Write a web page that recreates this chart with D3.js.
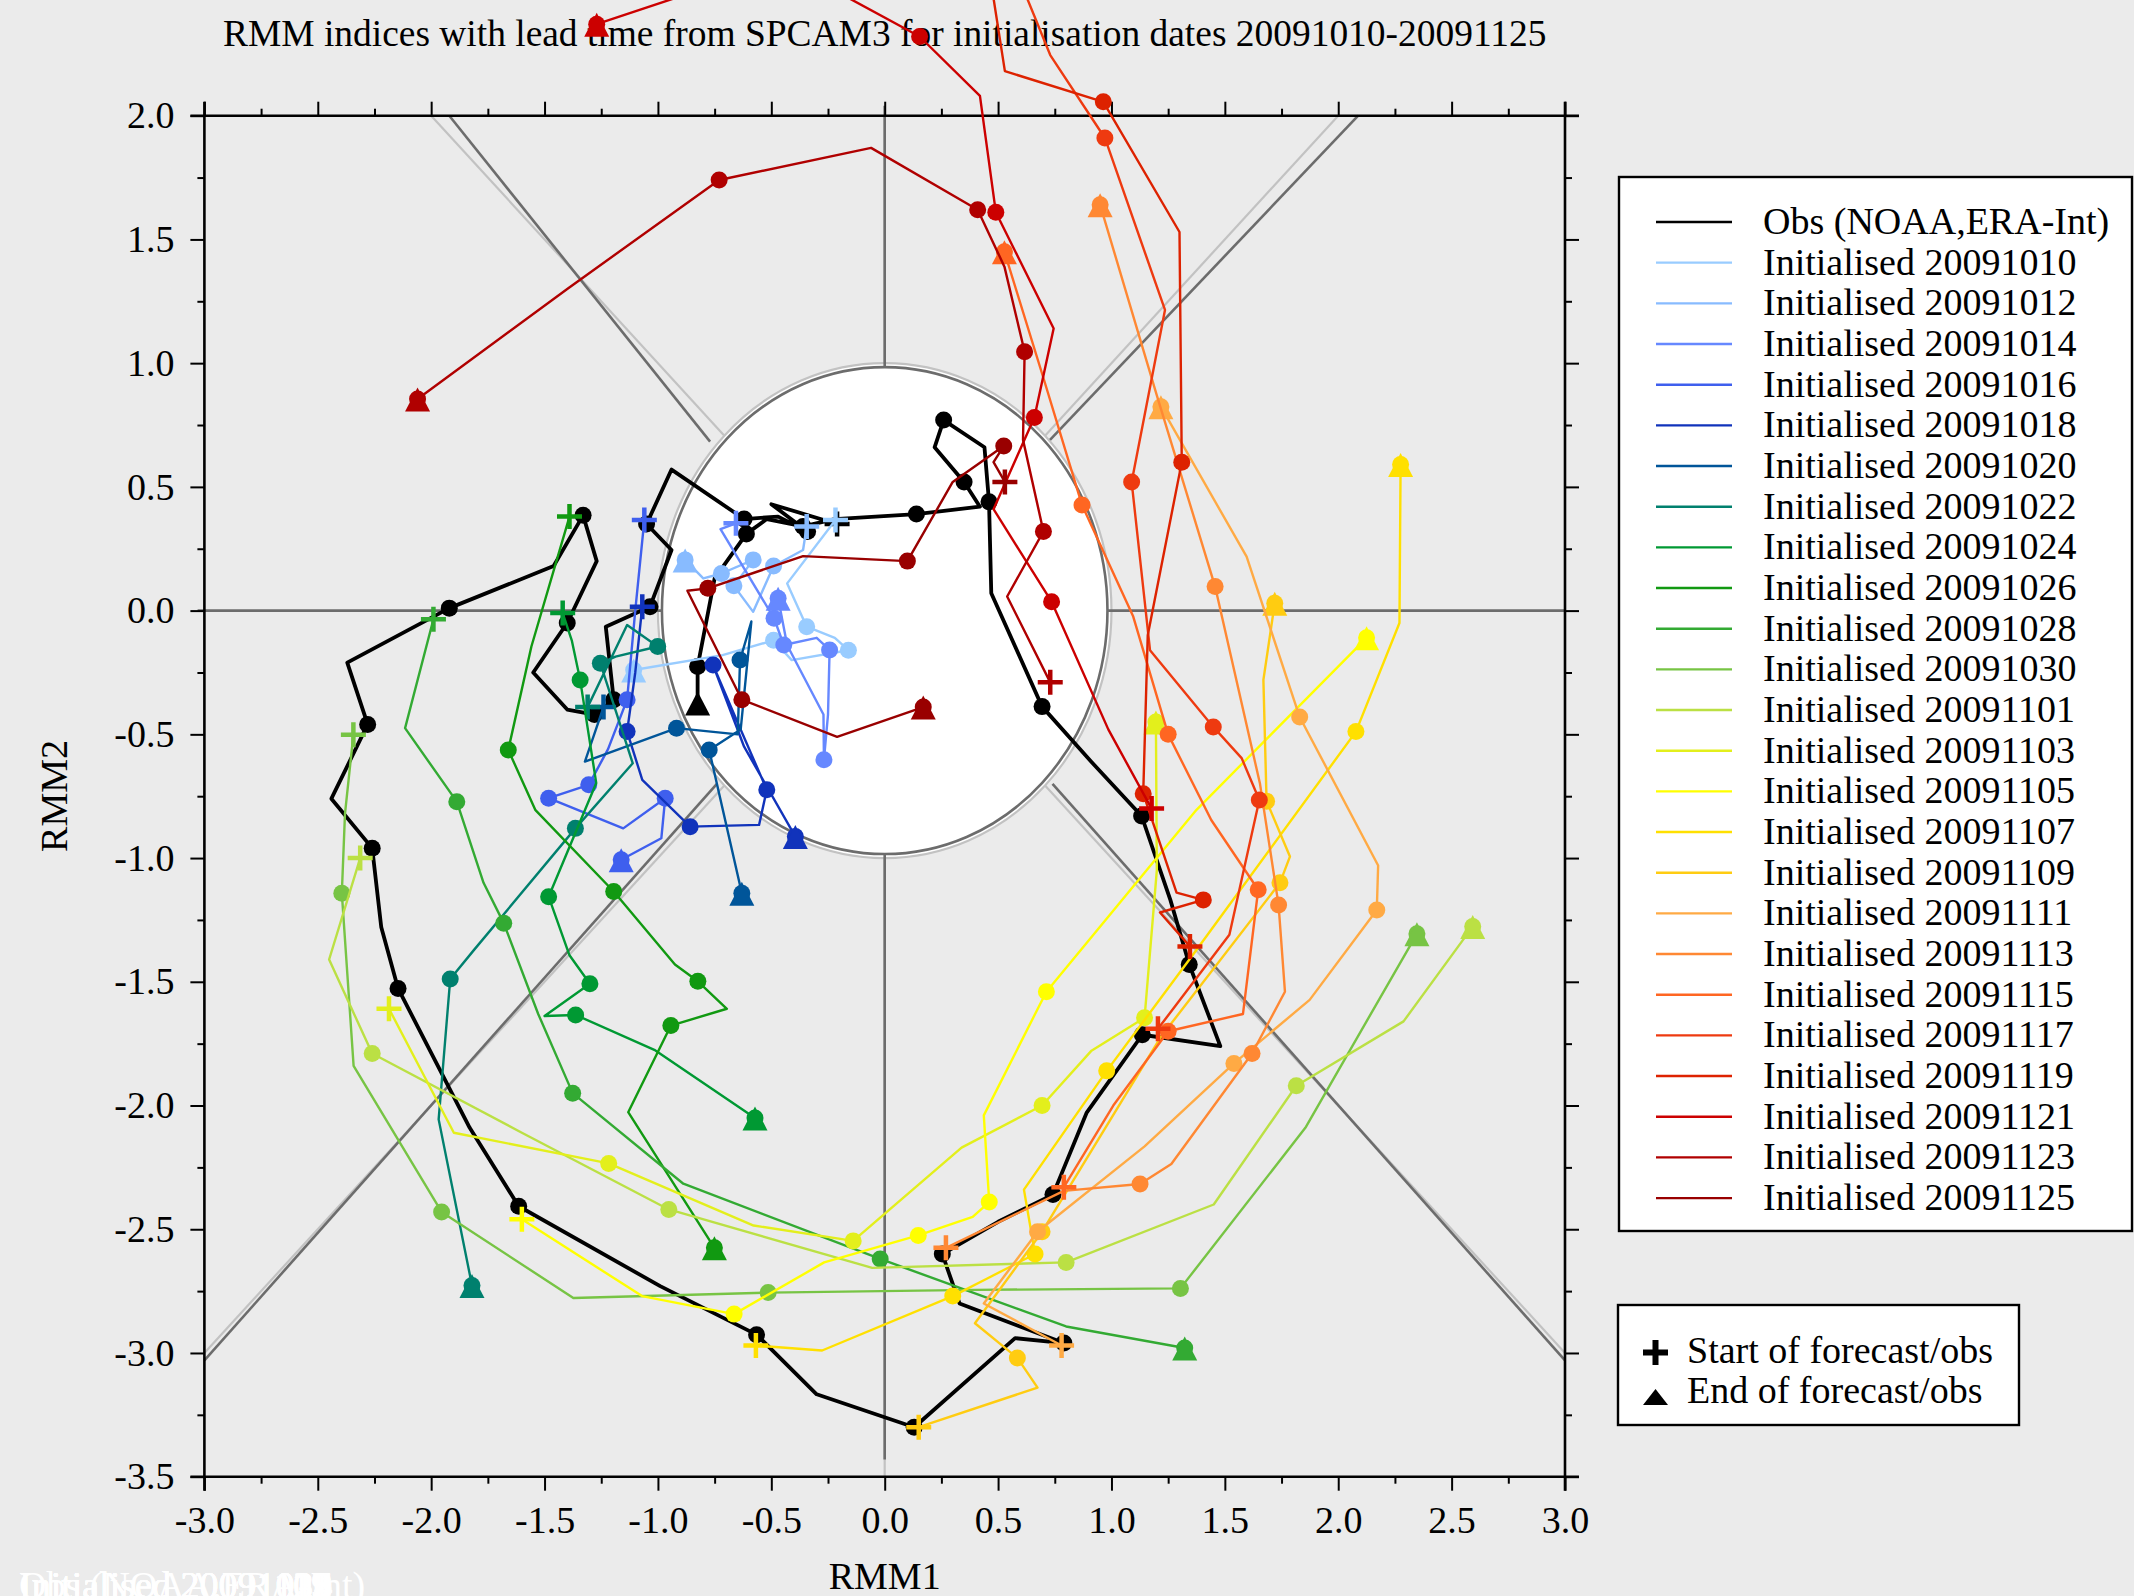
<!DOCTYPE html>
<html>
<head>
<meta charset="utf-8">
<script src="https://cdn.jsdelivr.net/npm/d3@7"></script>
<style>
  html, body { margin: 0; padding: 0; background: #ebebeb; }
  svg { display: block; }
  text { font-family: "Liberation Serif", "Times New Roman", serif; fill: #000; }
</style>
</head>
<body>
<svg id="chart" width="2134" height="1596"></svg>
<script>
// ---------------- data ----------------
const titleText = "RMM indices with lead time from SPCAM3 for initialisation dates 20091010-20091125";
const xTickValues = [-3, -2.5, -2, -1.5, -1, -0.5, 0, 0.5, 1, 1.5, 2, 2.5, 3];
const xTickLabels = ["-3.0","-2.5","-2.0","-1.5","-1.0","-0.5","0.0","0.5","1.0","1.5","2.0","2.5","3.0"];
const yTickValues = [2, 1.5, 1, 0.5, 0, -0.5, -1, -1.5, -2, -2.5, -3, -3.5];
const yTickLabels = ["2.0","1.5","1.0","0.5","0.0","-0.5","-1.0","-1.5","-2.0","-2.5","-3.0","-3.5"];

const obsLabel = "Obs (NOAA,ERA-Int)";
const initDates = ["20091010","20091012","20091014","20091016","20091018","20091020","20091022",
  "20091024","20091026","20091028","20091030","20091101","20091103","20091105","20091107",
  "20091109","20091111","20091113","20091115","20091117","20091119","20091121","20091123","20091125"];

// [RMM1, RMM2, marked day (1) or not (0)]
const obsPath = [
  [-0.21,0.35,0],[-0.50,0.43,0],[-0.34,0.32,1],[-0.47,0.38,0],[-0.62,0.37,1],[-0.94,0.57,0],
  [-1.05,0.35,1],[-0.94,0.245,0],[-1.035,0.016,1],[-1.23,-0.065,0],[-1.195,-0.36,1],[-1.28,-0.42,1],
  [-1.40,-0.40,0],[-1.55,-0.25,0],[-1.40,-0.05,1],[-1.27,0.20,0],[-1.33,0.385,1],[-1.46,0.18,0],
  [-1.92,0.01,1],[-2.37,-0.21,0],[-2.28,-0.46,1],[-2.44,-0.76,0],[-2.26,-0.96,1],[-2.22,-1.28,0],
  [-2.146,-1.527,1],[-1.83,-2.09,0],[-1.614,-2.407,1],[-0.99,-2.73,0],[-0.565,-2.926,1],[-0.30,-3.167,0],
  [0.13,-3.30,1],[0.575,-2.94,0],[0.79,-2.96,1],[0.33,-2.80,0],[0.254,-2.60,1],[0.50,-2.47,0],
  [0.742,-2.36,1],[0.89,-2.03,0],[1.136,-1.714,1],[1.48,-1.76,0],[1.343,-1.43,1],[1.26,-1.17,0],
  [1.133,-0.83,1],[0.91,-0.61,0],[0.694,-0.388,1],[0.47,0.07,0],[0.46,0.44,1],[0.44,0.66,0],
  [0.26,0.77,1],[0.22,0.66,0],[0.35,0.52,1],[0.42,0.42,0],[0.14,0.39,1],[-0.22,0.37,0],
  [-0.36,0.34,1],[-0.52,0.37,0],[-0.61,0.31,1],[-0.75,0.13,0],[-0.825,-0.226,1],[-0.825,-0.373,0]
];

const forecastPaths = [
  // 20091010
  [[-0.217,0.366,0],[-0.43,0.11,0],[-0.344,-0.065,1],[-0.22,-0.11,0],[-0.16,-0.16,1],[-0.41,-0.20,0],[-0.49,-0.12,1],[-0.715,-0.18,0],[-1.107,-0.24,0]],
  // 20091012
  [[-0.344,0.34,0],[-0.36,0.245,0],[-0.49,0.18,1],[-0.58,-0.005,0],[-0.665,0.10,1],[-0.58,0.205,1],[-0.72,0.15,1],[-0.80,0.13,0],[-0.88,0.205,0]],
  // 20091014
  [[-0.656,0.353,0],[-0.724,0.329,0],[-0.488,-0.031,1],[-0.445,-0.139,1],[-0.30,-0.11,0],[-0.243,-0.159,1],[-0.25,-0.42,0],[-0.268,-0.603,1],[-0.27,-0.42,0],[-0.43,-0.14,0],[-0.47,0.05,0]],
  // 20091016
  [[-1.06,0.366,0],[-1.10,0.0,0],[-1.136,-0.36,1],[-1.22,-0.56,0],[-1.305,-0.704,1],[-1.482,-0.758,1],[-1.153,-0.88,0],[-0.968,-0.758,1],[-0.985,-0.92,0],[-1.162,-1.007,0]],
  // 20091018
  [[-1.069,0.016,0],[-1.10,-0.25,0],[-1.136,-0.489,1],[-1.069,-0.684,0],[-0.858,-0.873,1],[-0.554,-0.866,0],[-0.52,-0.724,1],[-0.64,-0.47,0],[-0.757,-0.22,1],[-0.62,-0.55,0],[-0.394,-0.913,0]],
  // 20091020
  [[-1.24,-0.39,0],[-1.322,-0.61,0],[-0.918,-0.475,1],[-0.648,-0.50,0],[-0.638,-0.20,1],[-0.588,-0.044,0],[-0.635,-0.48,0],[-0.774,-0.563,1],[-0.63,-1.142,0]],
  // 20091022
  [[-1.31,-0.39,0],[-1.136,-0.058,0],[-1.001,-0.145,1],[-1.187,-0.186,0],[-1.254,-0.213,1],[-1.111,-0.617,0],[-1.364,-0.88,1],[-1.81,-1.37,0],[-1.916,-1.489,1],[-1.967,-2.056,0],[-1.82,-2.727,0]],
  // 20091024
  [[-1.42,-0.01,0],[-1.38,-0.12,0],[-1.343,-0.28,1],[-1.272,-0.697,0],[-1.482,-1.156,1],[-1.39,-1.393,0],[-1.30,-1.508,1],[-1.50,-1.638,0],[-1.363,-1.634,1],[-1.016,-1.775,0],[-0.572,-2.05,0]],
  // 20091026
  [[-1.39,0.38,0],[-1.558,-0.145,0],[-1.66,-0.563,1],[-1.541,-0.805,0],[-1.195,-1.135,1],[-0.925,-1.43,0],[-0.824,-1.498,1],[-0.696,-1.609,0],[-0.943,-1.677,1],[-1.131,-2.027,0],[-0.751,-2.575,0]],
  // 20091028
  [[-1.99,-0.035,0],[-2.115,-0.475,0],[-1.887,-0.772,1],[-1.769,-1.10,0],[-1.68,-1.263,1],[-1.528,-1.63,0],[-1.376,-1.95,1],[-0.888,-2.316,0],[-0.02,-2.62,1],[0.80,-2.893,0],[1.323,-2.98,0]],
  // 20091030
  [[-2.343,-0.502,0],[-2.38,-0.82,0],[-2.394,-1.142,1],[-2.342,-1.84,0],[-1.954,-2.43,1],[-1.373,-2.778,0],[-0.514,-2.756,1],[0.40,-2.745,0],[1.304,-2.739,1],[1.855,-2.09,0],[2.347,-1.306,0]],
  // 20091101
  [[-2.313,-1.0,0],[-2.45,-1.41,0],[-2.26,-1.79,1],[-1.6,-2.11,0],[-0.952,-2.42,1],[-0.055,-2.656,0],[0.80,-2.634,1],[1.451,-2.40,0],[1.815,-1.92,1],[2.288,-1.66,0],[2.593,-1.277,0]],
  // 20091103
  [[-2.186,-1.609,0],[-1.90,-2.11,0],[-1.217,-2.234,1],[-0.578,-2.485,0],[-0.139,-2.547,1],[0.339,-2.17,0],[0.694,-2.0,1],[0.91,-1.78,0],[1.146,-1.645,1],[1.20,-1.05,0],[1.196,-0.45,0]],
  // 20091105
  [[-1.60,-2.46,0],[-1.07,-2.77,0],[-0.664,-2.843,1],[-0.267,-2.634,0],[0.148,-2.525,1],[0.388,-2.45,0],[0.461,-2.39,1],[0.437,-2.04,0],[0.713,-1.54,1],[1.375,-0.805,0],[2.125,-0.11,0]],
  // 20091107
  [[-0.568,-2.97,0],[-0.276,-2.99,0],[0.30,-2.77,1],[0.45,-2.70,0],[0.663,-2.60,1],[0.614,-2.34,0],[0.979,-1.86,1],[1.36,-1.39,0],[2.078,-0.489,1],[2.27,-0.05,0],[2.275,0.59,0]],
  // 20091109
  [[0.15,-3.30,0],[0.674,-3.14,0],[0.585,-3.02,1],[0.398,-2.88,0],[0.694,-2.51,1],[1.22,-1.72,0],[1.743,-1.10,1],[1.787,-0.994,0],[1.684,-0.77,1],[1.67,-0.28,0],[1.72,0.03,0]],
  // 20091111
  [[0.78,-2.97,0],[0.437,-2.80,0],[0.674,-2.51,1],[1.146,-2.165,0],[1.54,-1.83,1],[1.874,-1.573,0],[2.17,-1.21,1],[2.176,-1.03,0],[1.83,-0.43,1],[1.596,0.218,0],[1.218,0.824,0]],
  // 20091113
  [[0.27,-2.575,0],[0.79,-2.345,0],[1.126,-2.317,1],[1.264,-2.236,0],[1.62,-1.79,1],[1.765,-1.54,0],[1.737,-1.19,1],[1.655,-0.70,0],[1.457,0.097,1],[1.2,0.87,0],[0.95,1.64,0]],
  // 20091115
  [[0.79,-2.33,0],[1.008,-2.0,0],[1.25,-1.70,1],[1.58,-1.63,0],[1.647,-1.128,1],[1.44,-0.846,0],[1.25,-0.50,1],[1.096,-0.024,0],[0.87,0.427,1],[0.70,0.94,0],[0.528,1.45,0]],
  // 20091117
  [[1.205,-1.69,0],[1.52,-1.31,0],[1.652,-0.765,1],[1.574,-0.596,0],[1.449,-0.47,1],[1.17,-0.16,0],[1.089,0.52,1],[1.236,1.215,0],[0.971,1.91,1],[0.73,2.245,0],[0.55,2.65,0]],
  // 20091119
  [[1.346,-1.357,0],[1.214,-1.22,0],[1.405,-1.169,1],[1.287,-1.14,0],[1.14,-0.74,1],[1.16,-0.10,0],[1.31,0.60,1],[1.30,1.53,0],[0.964,2.056,1],[0.53,2.18,0],[0.45,2.65,0]],
  // 20091121
  [[1.177,-0.80,0],[0.986,-0.48,0],[0.736,0.036,1],[0.48,0.41,0],[0.66,0.78,1],[0.745,1.14,0],[0.49,1.61,1],[0.42,2.08,0],[0.154,2.32,1],[-0.45,2.62,0],[-1.27,2.37,0]],
  // 20091123
  [[0.73,-0.29,0],[0.54,0.057,0],[0.70,0.32,1],[0.61,0.69,0],[0.617,1.046,1],[0.528,1.39,0],[0.41,1.62,1],[-0.06,1.87,0],[-0.73,1.74,1],[-1.40,1.30,0],[-2.06,0.855,0]],
  // 20091125
  [[0.53,0.52,0],[0.48,0.60,0],[0.525,0.665,1],[0.30,0.52,0],[0.10,0.20,1],[-0.36,0.22,0],[-0.78,0.09,1],[-0.87,0.08,0],[-0.63,-0.36,1],[-0.21,-0.51,0],[0.17,-0.39,0]]
];

const seriesColors = ["#99ccff","#88bbff","#6688ff","#3f5fee","#1133bb","#005599","#00806e",
  "#009933","#119911","#33aa33","#77c444","#bbe044","#e3ef1c","#ffff00","#ffe000",
  "#ffcc11","#ffaa44","#ff8833","#ff6622","#ee3a10","#dd2200","#cc0000","#b00000","#990000"];

const markerLabels = ["Start of forecast/obs", "End of forecast/obs"];

// ---------------- layout ----------------
const W = 2134, H = 1596;
const x = d3.scaleLinear().domain([-3, 3]).range([204.4, 1565]);
const y = d3.scaleLinear().domain([-3.5, 2]).range([1476.7, 115.7]);
const FONT = 38;

const svg = d3.select("#chart");
svg.append("rect").attr("width", W).attr("height", H).attr("fill", "#ebebeb");

// title
const title = svg.append("text")
  .attr("x", x(0)).attr("y", 46).attr("text-anchor", "middle")
  .style("font-size", FONT + "px").text(titleText);
const tl = title.node().getComputedTextLength();
if (tl > 0) title.style("font-size", (FONT * 1324 / tl).toFixed(2) + "px");

// amplitude-one circle
const cx = x(0), cy = y(0), rx = x(1) - x(0), ry = y(0) - y(1);
svg.append("ellipse").attr("cx", cx).attr("cy", cy).attr("rx", rx).attr("ry", ry)
  .attr("fill", "#ffffff").attr("stroke", "#c2c2c2").attr("stroke-width", 2.2);
svg.append("ellipse").attr("cx", cx).attr("cy", cy).attr("rx", rx - 4).attr("ry", ry - 4)
  .attr("fill", "none").attr("stroke", "#6c6c6c").attr("stroke-width", 2.6);

// phase-space dividing lines
const c45 = Math.SQRT1_2;
const lightLines = [
  [[c45, c45], [2, 2]], [[-c45, c45], [-2, 2]], [[-c45, -c45], [-3, -3]], [[c45, -c45], [3, -3]],
  [[0, 1], [0, 2]], [[0, -1], [0, -3.5]]
];
const darkLines = [
  [[0.729, 0.69], [2.088, 2.0]], [[-0.77, 0.683], [-1.92, 2.0]],
  [[-0.74, -0.70], [-3.0, -3.03]], [[0.74, -0.70], [3.0, -3.03]],
  [[-3.03, 0], [-0.985, 0]], [[0.985, 0], [3.0, 0]],
  [[0, 2.04], [0, 0.985]], [[0, -0.985], [0, -3.43]]
];
const seg = d3.line().x(d => x(d[0])).y(d => y(d[1]));
svg.append("g").selectAll("path").data(lightLines).join("path")
  .attr("d", seg).attr("fill", "none").attr("stroke", "#c2c2c2").attr("stroke-width", 2.2);
svg.append("g").selectAll("path").data(darkLines).join("path")
  .attr("d", seg).attr("fill", "none").attr("stroke", "#6c6c6c").attr("stroke-width", 2.6);

// axes (frame with ticks on all four sides)
const xMinor = d3.range(-2.75, 3, 0.5);
const yMinor = d3.range(-3.25, 2, 0.5);
function styleAxis(g) {
  g.select(".domain").remove();
  g.selectAll(".tick line").attr("stroke", "#000").attr("stroke-width", 2);
  g.selectAll("text").style("font-size", FONT + "px")
    .style("font-family", "'Liberation Serif','Times New Roman',serif").attr("fill", "#000");
}
const axG = svg.append("g");
axG.append("g").attr("transform", `translate(0,${y(-3.5)})`)
  .call(d3.axisBottom(x).tickValues(xTickValues).tickSize(14).tickPadding(15)
    .tickFormat((d, i) => xTickLabels[i])).call(styleAxis);
axG.append("g").attr("transform", `translate(0,${y(-3.5)})`)
  .call(d3.axisBottom(x).tickValues(xMinor).tickSize(7).tickFormat("")).call(styleAxis);
axG.append("g").attr("transform", `translate(0,${y(2)})`)
  .call(d3.axisTop(x).tickValues(xTickValues).tickSize(14).tickFormat("")).call(styleAxis);
axG.append("g").attr("transform", `translate(0,${y(2)})`)
  .call(d3.axisTop(x).tickValues(xMinor).tickSize(7).tickFormat("")).call(styleAxis);
axG.append("g").attr("transform", `translate(${x(-3)},0)`)
  .call(d3.axisLeft(y).tickValues(yTickValues).tickSize(14).tickPadding(16)
    .tickFormat((d, i) => yTickLabels[i])).call(styleAxis);
axG.append("g").attr("transform", `translate(${x(-3)},0)`)
  .call(d3.axisLeft(y).tickValues(yMinor).tickSize(7).tickFormat("")).call(styleAxis);
axG.append("g").attr("transform", `translate(${x(3)},0)`)
  .call(d3.axisRight(y).tickValues(yTickValues).tickSize(14).tickFormat("")).call(styleAxis);
axG.append("g").attr("transform", `translate(${x(3)},0)`)
  .call(d3.axisRight(y).tickValues(yMinor).tickSize(7).tickFormat("")).call(styleAxis);
const ov = 14;
const frame = [
  [x(-3) - ov, y(2), x(3) + ov, y(2)], [x(-3) - ov, y(-3.5), x(3) + ov, y(-3.5)],
  [x(-3), y(2) - ov, x(-3), y(-3.5) + ov], [x(3), y(2) - ov, x(3), y(-3.5) + ov]
];
axG.selectAll("line.frame").data(frame).join("line").attr("class", "frame")
  .attr("x1", d => d[0]).attr("y1", d => d[1]).attr("x2", d => d[2]).attr("y2", d => d[3])
  .attr("stroke", "#000").attr("stroke-width", 2.6);

// axis titles
svg.append("text").attr("x", x(0)).attr("y", 1589).attr("text-anchor", "middle")
  .style("font-size", FONT + "px").text("RMM1");
svg.append("text").attr("transform", "translate(67,796) rotate(-90)").attr("text-anchor", "middle")
  .style("font-size", FONT + "px").text("RMM2");

// ---------------- trajectories ----------------
const line = d3.line().x(d => x(d[0])).y(d => y(d[1]));
const plusPath = "M-12.5,0H12.5M0,-12.5V12.5";
const triPath = "M0,-11.5L12.5,12.5L-12.5,12.5Z";

function drawTrack(pts, color, width, isObs) {
  const g = svg.append("g");
  g.append("path").datum(pts).attr("d", line).attr("fill", "none")
    .attr("stroke", color).attr("stroke-width", width).attr("stroke-linejoin", "round");
  const dots = pts.filter((p, i) => p[2] === 1 || (!isObs && i === pts.length - 1));
  g.selectAll("circle").data(dots).join("circle")
    .attr("cx", d => x(d[0])).attr("cy", d => y(d[1])).attr("r", 8.5).attr("fill", color);
  const s = pts[0], e = pts[pts.length - 1];
  g.append("path").attr("d", plusPath).attr("transform", `translate(${x(s[0])},${y(s[1])})`)
    .attr("stroke", color).attr("stroke-width", 4.5).attr("fill", "none");
  g.append("path").attr("d", triPath).attr("transform", `translate(${x(e[0])},${y(e[1])})`)
    .attr("fill", color);
}

drawTrack(obsPath, "#000000", 3.8, true);
forecastPaths.forEach((pts, i) => drawTrack(pts, seriesColors[i], 2.4, false));

// ---------------- legends ----------------
const legendLabels = [obsLabel].concat(initDates.map(d => "Initialised " + d));
const legendColors = ["#000000"].concat(seriesColors);
const lg = svg.append("g");
lg.append("rect").attr("x", 1619).attr("y", 177).attr("width", 1513 - 1000 + 0).attr("height", 1054)
  .attr("fill", "#ffffff").attr("stroke", "#000").attr("stroke-width", 2.4);
legendLabels.forEach((lab, i) => {
  const ly = 222 + i * 40.67;
  lg.append("line").attr("x1", 1656).attr("x2", 1732).attr("y1", ly).attr("y2", ly)
    .attr("stroke", legendColors[i]).attr("stroke-width", 2.4);
  lg.append("text").attr("x", 1763).attr("y", ly + 12).style("font-size", FONT + "px").text(lab);
});

const lg2 = svg.append("g");
lg2.append("rect").attr("x", 1618).attr("y", 1305).attr("width", 401).attr("height", 120)
  .attr("fill", "#ffffff").attr("stroke", "#000").attr("stroke-width", 2.4);
lg2.append("path").attr("d", plusPath).attr("transform", "translate(1655.5,1352.5)")
  .attr("stroke", "#000").attr("stroke-width", 6).attr("fill", "none");
lg2.append("path").attr("d", "M0,-8L12.5,8L-12.5,8Z").attr("transform", "translate(1655.5,1397)")
  .attr("fill", "#000");
lg2.append("text").attr("x", 1687).attr("y", 1363).style("font-size", FONT + "px").text(markerLabels[0]);
lg2.append("text").attr("x", 1687).attr("y", 1403).style("font-size", FONT + "px").text(markerLabels[1]);

// stacked white copies of the legend labels in the lower-left corner
svg.append("g").selectAll("text").data(legendLabels).join("text")
  .attr("x", 19).attr("y", 1598).style("font-size", FONT + "px")
  .attr("fill", "#ffffff").style("fill", "#ffffff").text(d => d);
</script>
</body>
</html>
